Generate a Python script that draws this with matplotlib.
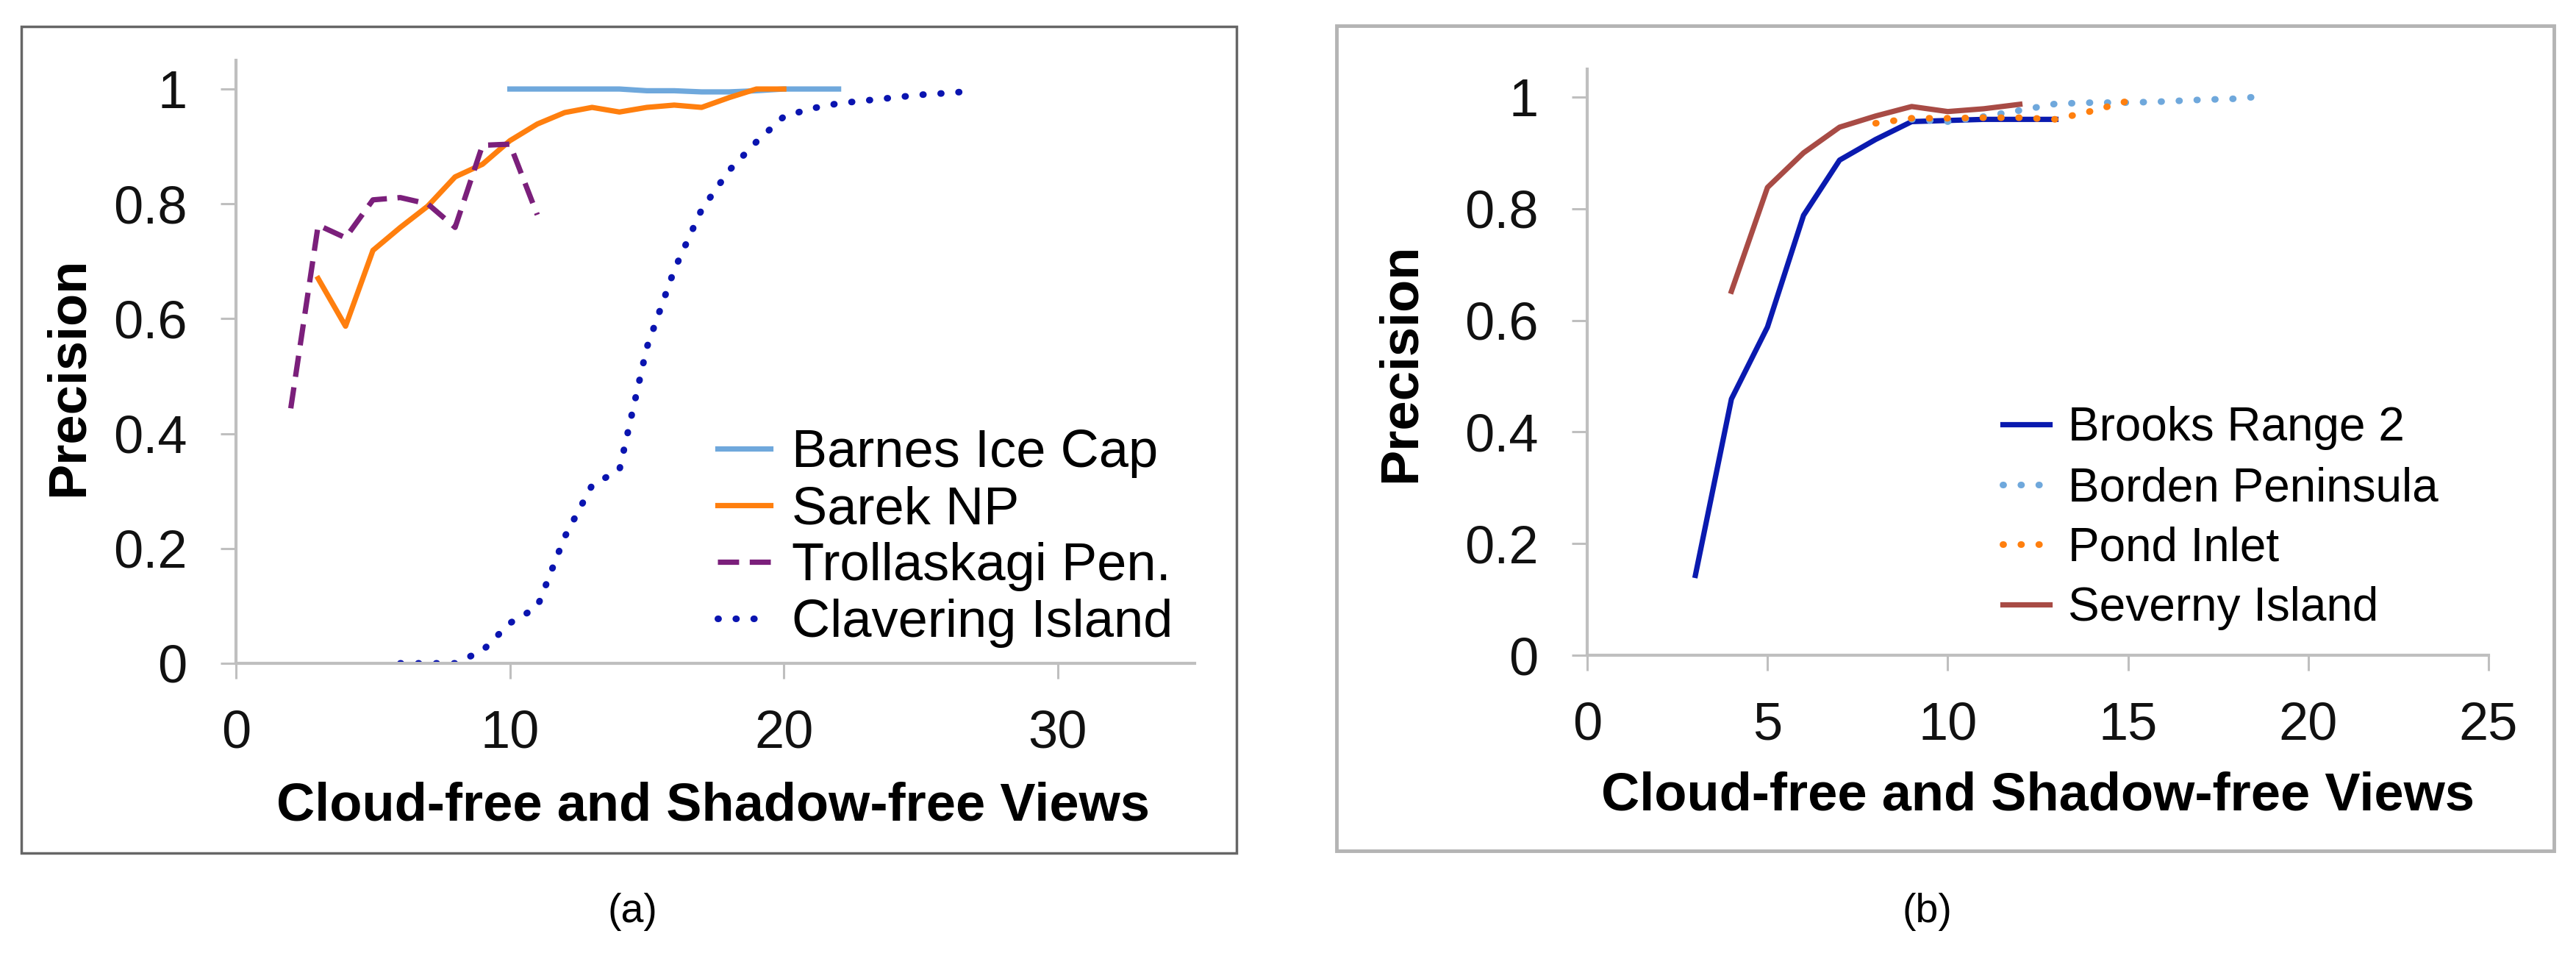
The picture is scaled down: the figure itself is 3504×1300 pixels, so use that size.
import numpy as np
import matplotlib.pyplot as plt
from matplotlib.patches import Rectangle

plt.rcParams['font.family'] = ['Liberation Sans', 'DejaVu Sans']

# ---- panel (a) data ----
barnes_x = [10, 11, 12, 13, 14, 15, 16, 17, 18, 19, 20, 21, 22]
barnes_y = [1.0, 1.0, 1.0, 1.0, 1.0, 0.997, 0.997, 0.995, 0.995, 0.997, 1.0, 1.0, 1.0]

sarek_x = [3, 4, 5, 6, 7, 8, 9, 10, 11, 12, 13, 14, 15, 16, 17, 18, 19, 20]
sarek_y = [0.67, 0.587, 0.719, 0.759, 0.796, 0.847, 0.869, 0.91, 0.939, 0.959,
           0.968, 0.96, 0.968, 0.972, 0.968, 0.985, 1.0, 1.0]

troll_x = [2, 3, 4, 5, 6, 7, 8, 9, 10, 11]
troll_y = [0.444, 0.763, 0.741, 0.807, 0.811, 0.80, 0.759, 0.902, 0.904, 0.781]

claver_x = [6, 7, 8, 9, 10, 11, 12, 13, 14, 15, 16, 17, 18, 19, 20, 21, 22, 23, 24, 25, 26, 27]
claver_y = [0.0, 0.0, 0.0, 0.022, 0.07, 0.098, 0.22, 0.31, 0.337, 0.55, 0.685, 0.79,
            0.858, 0.908, 0.952, 0.966, 0.975, 0.98, 0.985, 0.99, 0.993, 0.997]

# ---- panel (b) data ----
brooks_x = [3, 4, 5, 6, 7, 8, 9, 10, 11, 12, 13]
brooks_y = [0.143, 0.459, 0.588, 0.788, 0.887, 0.924, 0.956, 0.958, 0.96, 0.96, 0.96]

borden_x = [9, 10, 11, 12, 13, 14, 15, 16, 17, 18, 18.5]
borden_y = [0.96, 0.956, 0.965, 0.976, 0.988, 0.99, 0.99, 0.992, 0.995, 0.997, 1.0]

pond_x = [8, 9, 10, 11, 12, 13, 14, 15]
pond_y = [0.953, 0.962, 0.962, 0.963, 0.963, 0.96, 0.975, 0.993]

severny_x = [4, 5, 6, 7, 8, 9, 10, 11, 12]
severny_y = [0.652, 0.838, 0.90, 0.946, 0.966, 0.983, 0.974, 0.979, 0.987]

W, H = 3504, 1300
fig = plt.figure(figsize=(W / 100, H / 100), dpi=100)

GRAY = '#BFBFBF'
LW = 5.2
DLW = 6.5
DOT = (0, (0.1, 2.6))


def px_axes(l, t, r, b):
    return fig.add_axes([l / W, 1 - b / H, (r - l) / W, (b - t) / H])


def style(ax, xmax, xstep):
    for s in ['top', 'right']:
        ax.spines[s].set_visible(False)
    for s in ['left', 'bottom']:
        ax.spines[s].set_color(GRAY)
        ax.spines[s].set_linewidth(3)
    ax.set_xlim(0, xmax)
    ax.set_ylim(0, 1.05)
    ax.set_xticks(np.arange(0, xmax + 0.1, xstep))
    ax.set_yticks([0, 0.2, 0.4, 0.6, 0.8, 1.0])
    ax.set_yticklabels(['0', '0.2', '0.4', '0.6', '0.8', '1'])
    ax.tick_params(axis='both', direction='out', length=15, width=2.2,
                   color=GRAY, labelsize=52, labelcolor='#111111')
    ax.tick_params(axis='y', pad=33)
    ax.tick_params(axis='x', pad=30)


# ---- panel (a) ----
ax1 = px_axes(321, 82, 1625, 902)
ax1.plot(barnes_x, barnes_y, color='#6FA8DC', lw=LW, label='Barnes Ice Cap')
ax1.plot(sarek_x, sarek_y, color='#FF7F0E', lw=LW, label='Sarek NP')
ax1.plot(troll_x, troll_y, color='#7B1F7B', lw=LW, linestyle=(0, (4, 2)),
         label='Trollaskagi Pen.')
ax1.plot(claver_x, claver_y, color='#0A14B0', lw=DLW, linestyle=DOT,
         dash_capstyle='round', label='Clavering Island')
style(ax1, 35, 10)
ax1.legend(loc='lower left', bbox_to_anchor=(0.48, -0.01), frameon=False,
           fontsize=52, handlelength=1.0, handletextpad=0.4, labelspacing=0.14,
           borderaxespad=0)
ax1.set_xlabel('Cloud-free and Shadow-free Views', fontsize=52, fontweight='bold')
ax1.xaxis.set_label_coords((970 - 321) / 1304, -(1096 - 902) / 820)
ax1.xaxis.label.set_va('center')
ax1.set_ylabel('Precision', fontsize=52, fontweight='bold')
ax1.yaxis.set_label_coords(-(321 - 94) / 1304, 1 - (512 - 82) / 820)
ax1.yaxis.label.set_va('center')

# ---- panel (b) ----
ax2 = px_axes(2159, 94, 3385, 891)
ax2.plot(brooks_x, brooks_y, color='#0A1AAF', lw=LW, label='Brooks Range 2')
ax2.plot(borden_x, borden_y, color='#6FA8DC', lw=DLW, linestyle=DOT,
         dash_capstyle='round', label='Borden Peninsula')
ax2.plot(pond_x, pond_y, color='#FF7F0E', lw=DLW, linestyle=DOT,
         dash_capstyle='round', label='Pond Inlet')
ax2.plot(severny_x, severny_y, color='#A84B45', lw=LW, label='Severny Island')
style(ax2, 25, 5)
ax2.legend(loc='lower left', bbox_to_anchor=(0.44, 0.01), frameon=False,
           fontsize=46, handlelength=1.0, handletextpad=0.4, labelspacing=0.34,
           borderaxespad=0)
ax2.set_xlabel('Cloud-free and Shadow-free Views', fontsize=52, fontweight='bold')
ax2.xaxis.set_label_coords(0.5, -(1083 - 891) / 797)
ax2.xaxis.label.set_va('center')
ax2.set_ylabel('Precision', fontsize=52, fontweight='bold')
ax2.yaxis.set_label_coords(-(2159 - 1906) / 1226, 1 - (493 - 94) / 797)
ax2.yaxis.label.set_va('center')

# panel frames and captions
fig.patches.append(Rectangle((29 / W, 1 - 1160 / H), (1682 - 29) / W, (1160 - 36) / H,
                             transform=fig.transFigure, fill=False,
                             edgecolor='#666666', lw=2.5))
fig.patches.append(Rectangle((1818 / W, 1 - 1157 / H), (3474 - 1818) / W, (1157 - 35) / H,
                             transform=fig.transFigure, fill=False,
                             edgecolor='#B4B4B4', lw=3.5))
fig.text(860 / W, 1 - 1240 / H, '(a)', fontsize=40, ha='center', va='center')
fig.text(2621 / W, 1 - 1240 / H, '(b)', fontsize=40, ha='center', va='center')

fig.savefig('out.png', dpi=100, facecolor='white')
